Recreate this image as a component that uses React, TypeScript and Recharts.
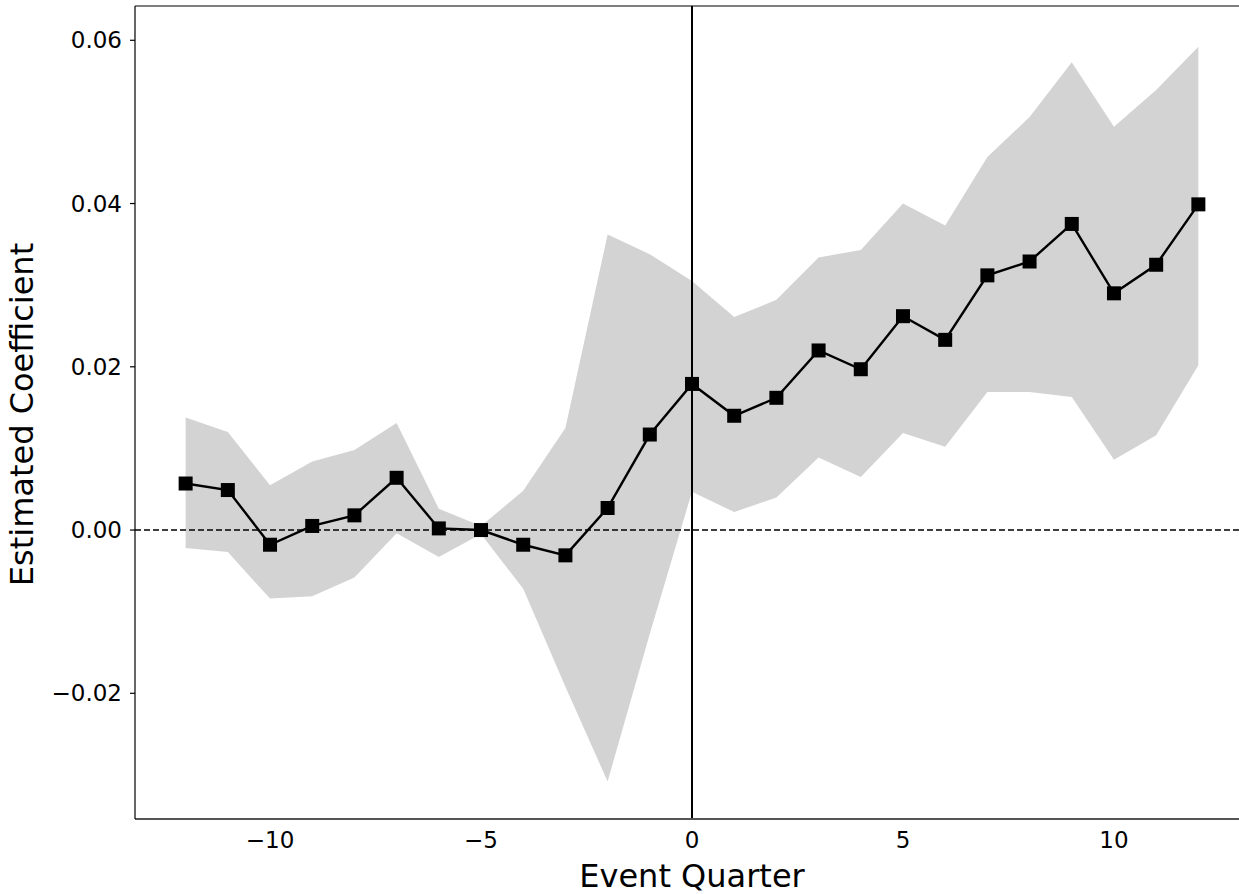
import React from 'react';
import { ComposedChart, Area, Line, XAxis, YAxis, ReferenceLine } from 'recharts';

const quarters = [-12, -11, -10, -9, -8, -7, -6, -5, -4, -3, -2, -1, 0, 1, 2, 3, 4, 5, 6, 7, 8, 9, 10, 11, 12];
const coefficients = [0.0057, 0.0049, -0.0018, 0.0005, 0.0018, 0.0064, 0.0002, 0.0, -0.0018, -0.0031, 0.0027, 0.0117, 0.0179, 0.014, 0.0162, 0.022, 0.0197, 0.0262, 0.0233, 0.0312, 0.0329, 0.0375, 0.029, 0.0325, 0.0399];
const upperBound = [0.0138, 0.012, 0.0055, 0.0084, 0.0098, 0.0131, 0.0026, 0.0005, 0.0048, 0.0125, 0.0362, 0.0338, 0.0305, 0.0261, 0.0282, 0.0334, 0.0343, 0.04, 0.0373, 0.0457, 0.0506, 0.0573, 0.0494, 0.0539, 0.0592];
const lowerBound = [-0.0022, -0.0027, -0.0084, -0.0081, -0.0058, -0.0004, -0.0033, -0.0005, -0.0072, -0.0192, -0.0308, -0.0127, 0.0047, 0.0022, 0.004, 0.0089, 0.0065, 0.0119, 0.0102, 0.0169, 0.0169, 0.0163, 0.0086, 0.0116, 0.0202];
const xTicks = [-10, -5, 0, 5, 10];
const yTicks = [-0.02, 0, 0.02, 0.04, 0.06];
const xLabel = 'Event Quarter';
const yLabel = 'Estimated Coefficient';

const data = quarters.map((q, i) => ({
  q,
  coef: coefficients[i],
  band: [lowerBound[i], upperBound[i]],
}));

const FONT = 'DejaVu Sans';
const fmtMinus = (s: string) => s.replace('-', '\u2212');

const SquareDot = (props: any) => {
  const { cx, cy } = props;
  if (cx == null || cy == null) return null;
  return <rect x={cx - 7} y={cy - 7} width={14} height={14} fill="#000" />;
};

const XLabelContent = (props: any) => {
  const vb = props.viewBox || {};
  const cx = vb.x + vb.width / 2;
  const by = vb.y + vb.height - 7;
  return (
    <text x={cx} y={by} textAnchor="middle" fontSize={32} fontFamily={FONT} fill="#000">
      {xLabel}
    </text>
  );
};

const YLabelContent = (props: any) => {
  const vb = props.viewBox || {};
  const bx = 33;
  const cy = vb.y + vb.height / 2 + 2;
  return (
    <text
      x={bx}
      y={cy}
      transform={`rotate(-90, ${bx}, ${cy})`}
      textAnchor="middle"
      fontSize={32}
      fontFamily={FONT}
      fill="#000"
    >
      {yLabel}
    </text>
  );
};

export default function App() {
  return (
    <div style={{ position: 'absolute', left: 0, top: 0, width: 1239, height: 894, overflow: 'hidden', background: '#fff' }}>
      <ComposedChart
        width={1250}
        height={894}
        data={data}
        margin={{ top: 6, right: 1, bottom: 0, left: 0 }}
        style={{ fontFamily: FONT }}
      >
        <XAxis
          dataKey="q"
          type="number"
          domain={[-13.2, 13.2]}
          ticks={xTicks}
          tickFormatter={(v: number) => fmtMinus(String(v))}
          tickLine={false}
          tickSize={5}
          tickMargin={8}
          tick={{ fontSize: 23, fill: '#000', fontFamily: FONT }}
          axisLine={{ stroke: '#555', strokeWidth: 2 }}
          height={75}
          allowDataOverflow
          label={<XLabelContent />}
        />
        <YAxis
          type="number"
          domain={[-0.0354, 0.0642]}
          ticks={yTicks}
          tickFormatter={(v: number) => fmtMinus(v.toFixed(2))}
          tickSize={5}
          tickMargin={8}
          tickLine={{ stroke: '#000', strokeWidth: 1.2 }}
          tick={{ fontSize: 23, fill: '#000', fontFamily: FONT }}
          axisLine={{ stroke: '#000', strokeWidth: 1.2 }}
          width={135}
          allowDataOverflow
          label={<YLabelContent />}
        />
        <Area
          dataKey="band"
          type="linear"
          stroke="none"
          fill="#d3d3d3"
          fillOpacity={1}
          isAnimationActive={false}
          dot={false}
          activeDot={false}
        />
        <ReferenceLine y={0.0642} stroke="#000" strokeWidth={1.2} />
        <ReferenceLine y={0} stroke="#000" strokeWidth={1.5} strokeDasharray="6 3" />
        <ReferenceLine x={0} stroke="#000" strokeWidth={2} />
        <Line
          dataKey="coef"
          type="linear"
          stroke="#000"
          strokeWidth={2.4}
          dot={<SquareDot />}
          activeDot={false}
          isAnimationActive={false}
        />
      </ComposedChart>
    </div>
  );
}
